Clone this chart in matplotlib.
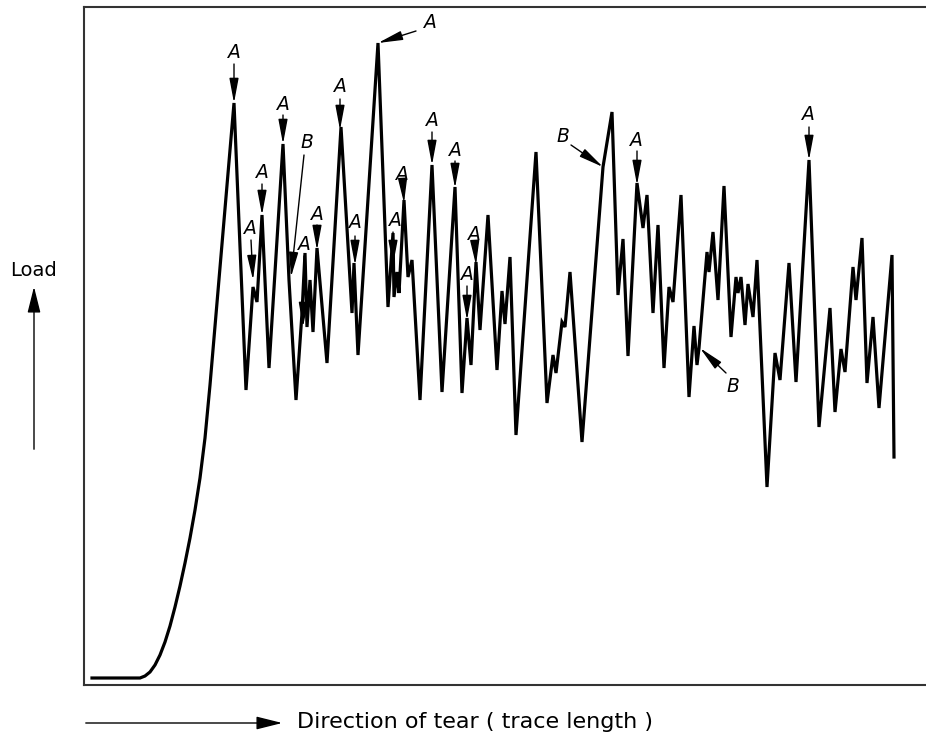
import matplotlib
matplotlib.use("Agg")
import matplotlib.pyplot as plt

# trace (trace length, load) in arbitrary units
trace_len = [8, 50, 56, 61, 66, 71, 76, 81, 86, 91,
             96, 101, 106, 111, 116, 121, 126,
             150, 162, 169, 173, 178, 185, 199, 205, 212, 218,
             221, 223, 226, 229, 233, 243, 257, 268, 270, 274,
             294, 304, 309, 310, 313, 315, 320, 324, 328, 336,
             348, 358, 371, 378, 383, 387, 392, 396, 404, 413,
             418, 421, 426, 432, 452, 463, 469, 472, 478, 481,
             486, 498, 519, 528, 534, 539, 544, 553, 559, 563,
             569, 574, 580, 585, 589, 597, 605, 610, 613, 615,
             623, 625, 629, 634, 640, 647, 652, 654, 657, 661,
             664, 669, 673, 683, 691, 696, 705, 712, 725, 735,
             746, 751, 757, 761, 769, 772, 778, 783, 789, 795,
             808, 810]
load = [7, 7, 7, 9, 13, 20, 30, 43, 59, 78,
        99, 122, 147, 175, 207, 247, 300,
        582, 295, 398, 383, 470, 317, 541, 405, 285, 372,
        432, 358, 405, 353, 437, 322, 558, 372, 422, 330,
        642, 378, 452, 388, 413, 392, 485, 408, 425, 285,
        520, 293, 498, 292, 367, 320, 423, 355, 470, 315,
        394, 361, 428, 250, 533, 282, 330, 312, 363, 358,
        413, 243, 518, 573, 390, 446, 329, 502, 457, 490,
        372, 460, 317, 398, 383, 490, 288, 359, 320, 337,
        433, 413, 453, 385, 499, 348, 408, 392, 408, 360,
        401, 368, 425, 198, 332, 305, 422, 303, 525, 258,
        377, 273, 336, 313, 418, 385, 447, 302, 368, 277,
        430, 228]

# markers: label, text position, arrow tail, arrow tip
marks = ["A", "A", "B", "A", "A", "A", "A", "A", "A", "A",
         "A", "A", "A", "A", "A", "A", "B", "A", "B", "A"]
text_pos = [(150, 632), (199, 581), (223, 543), (178, 513), (166, 456),
            (233, 471), (220, 440), (256, 598), (271, 462), (346, 663),
            (318, 511), (311, 464), (348, 564), (371, 535), (390, 450),
            (383, 410), (479, 549), (552, 545), (649, 299), (724, 570)]
tails = [(150, 621), (199, 570), (220, 530), (178, 501), (167, 445),
         (233, 460), (220, 429), (256, 586), (271, 449), (332, 654),
         (319, 499), (309, 453), (348, 553), (371, 524), (391, 439),
         (383, 399), (487, 540), (553, 534), (642, 312), (725, 558)]
tips = [(150, 582), (199, 541), (207, 408), (178, 470), (169, 405),
        (233, 435), (219, 358), (256, 555), (271, 420), (294, 642),
        (320, 482), (309, 420), (348, 520), (371, 497), (392, 420),
        (383, 365), (519, 518), (553, 500), (616, 337), (725, 525)]

W, H = 926, 740
fig = plt.figure(figsize=(W / 100, H / 100), dpi=100)
ax = fig.add_axes([84 / W, 55 / H, 842 / W, 678 / H])

ax.plot(trace_len, load, color="black", lw=2.3, solid_joinstyle="miter")

for m, tp, tl, tip in zip(marks, text_pos, tails, tips):
    ax.text(tp[0], tp[1], m, style="italic", fontsize=13.5,
            ha="center", va="center")
    ax.annotate("", xy=tip, xytext=tl,
                arrowprops=dict(arrowstyle="-|>,head_length=1.5,head_width=0.28",
                                mutation_scale=10, color="black", lw=1.0,
                                shrinkA=0, shrinkB=0))

ax.set_xlim(0, 842)
ax.set_ylim(0, 678)
ax.set_xticks([])
ax.set_yticks([])
ax.spines["right"].set_visible(False)
for s in ["left", "top", "bottom"]:
    ax.spines[s].set_linewidth(1.5)
    ax.spines[s].set_color("#333333")

# axis captions with their arrows
fig.text(33 / W, 470 / H, "Load", fontsize=14, ha="center", va="center")
fig.patches.append(matplotlib.patches.FancyArrowPatch(
    (34 / W, 288 / H), (34 / W, 456 / H), transform=fig.transFigure,
    arrowstyle="-|>,head_length=1.6,head_width=0.4", mutation_scale=10,
    color="black", lw=1.0))
fig.patches.append(matplotlib.patches.FancyArrowPatch(
    (83 / W, 17 / H), (285 / W, 17 / H), transform=fig.transFigure,
    arrowstyle="-|>,head_length=1.6,head_width=0.4", mutation_scale=10,
    color="black", lw=1.0))
fig.text(297 / W, 18 / H, "Direction of tear ( trace length )", fontsize=16,
         ha="left", va="center")

fig.savefig("out.png", dpi=100)
